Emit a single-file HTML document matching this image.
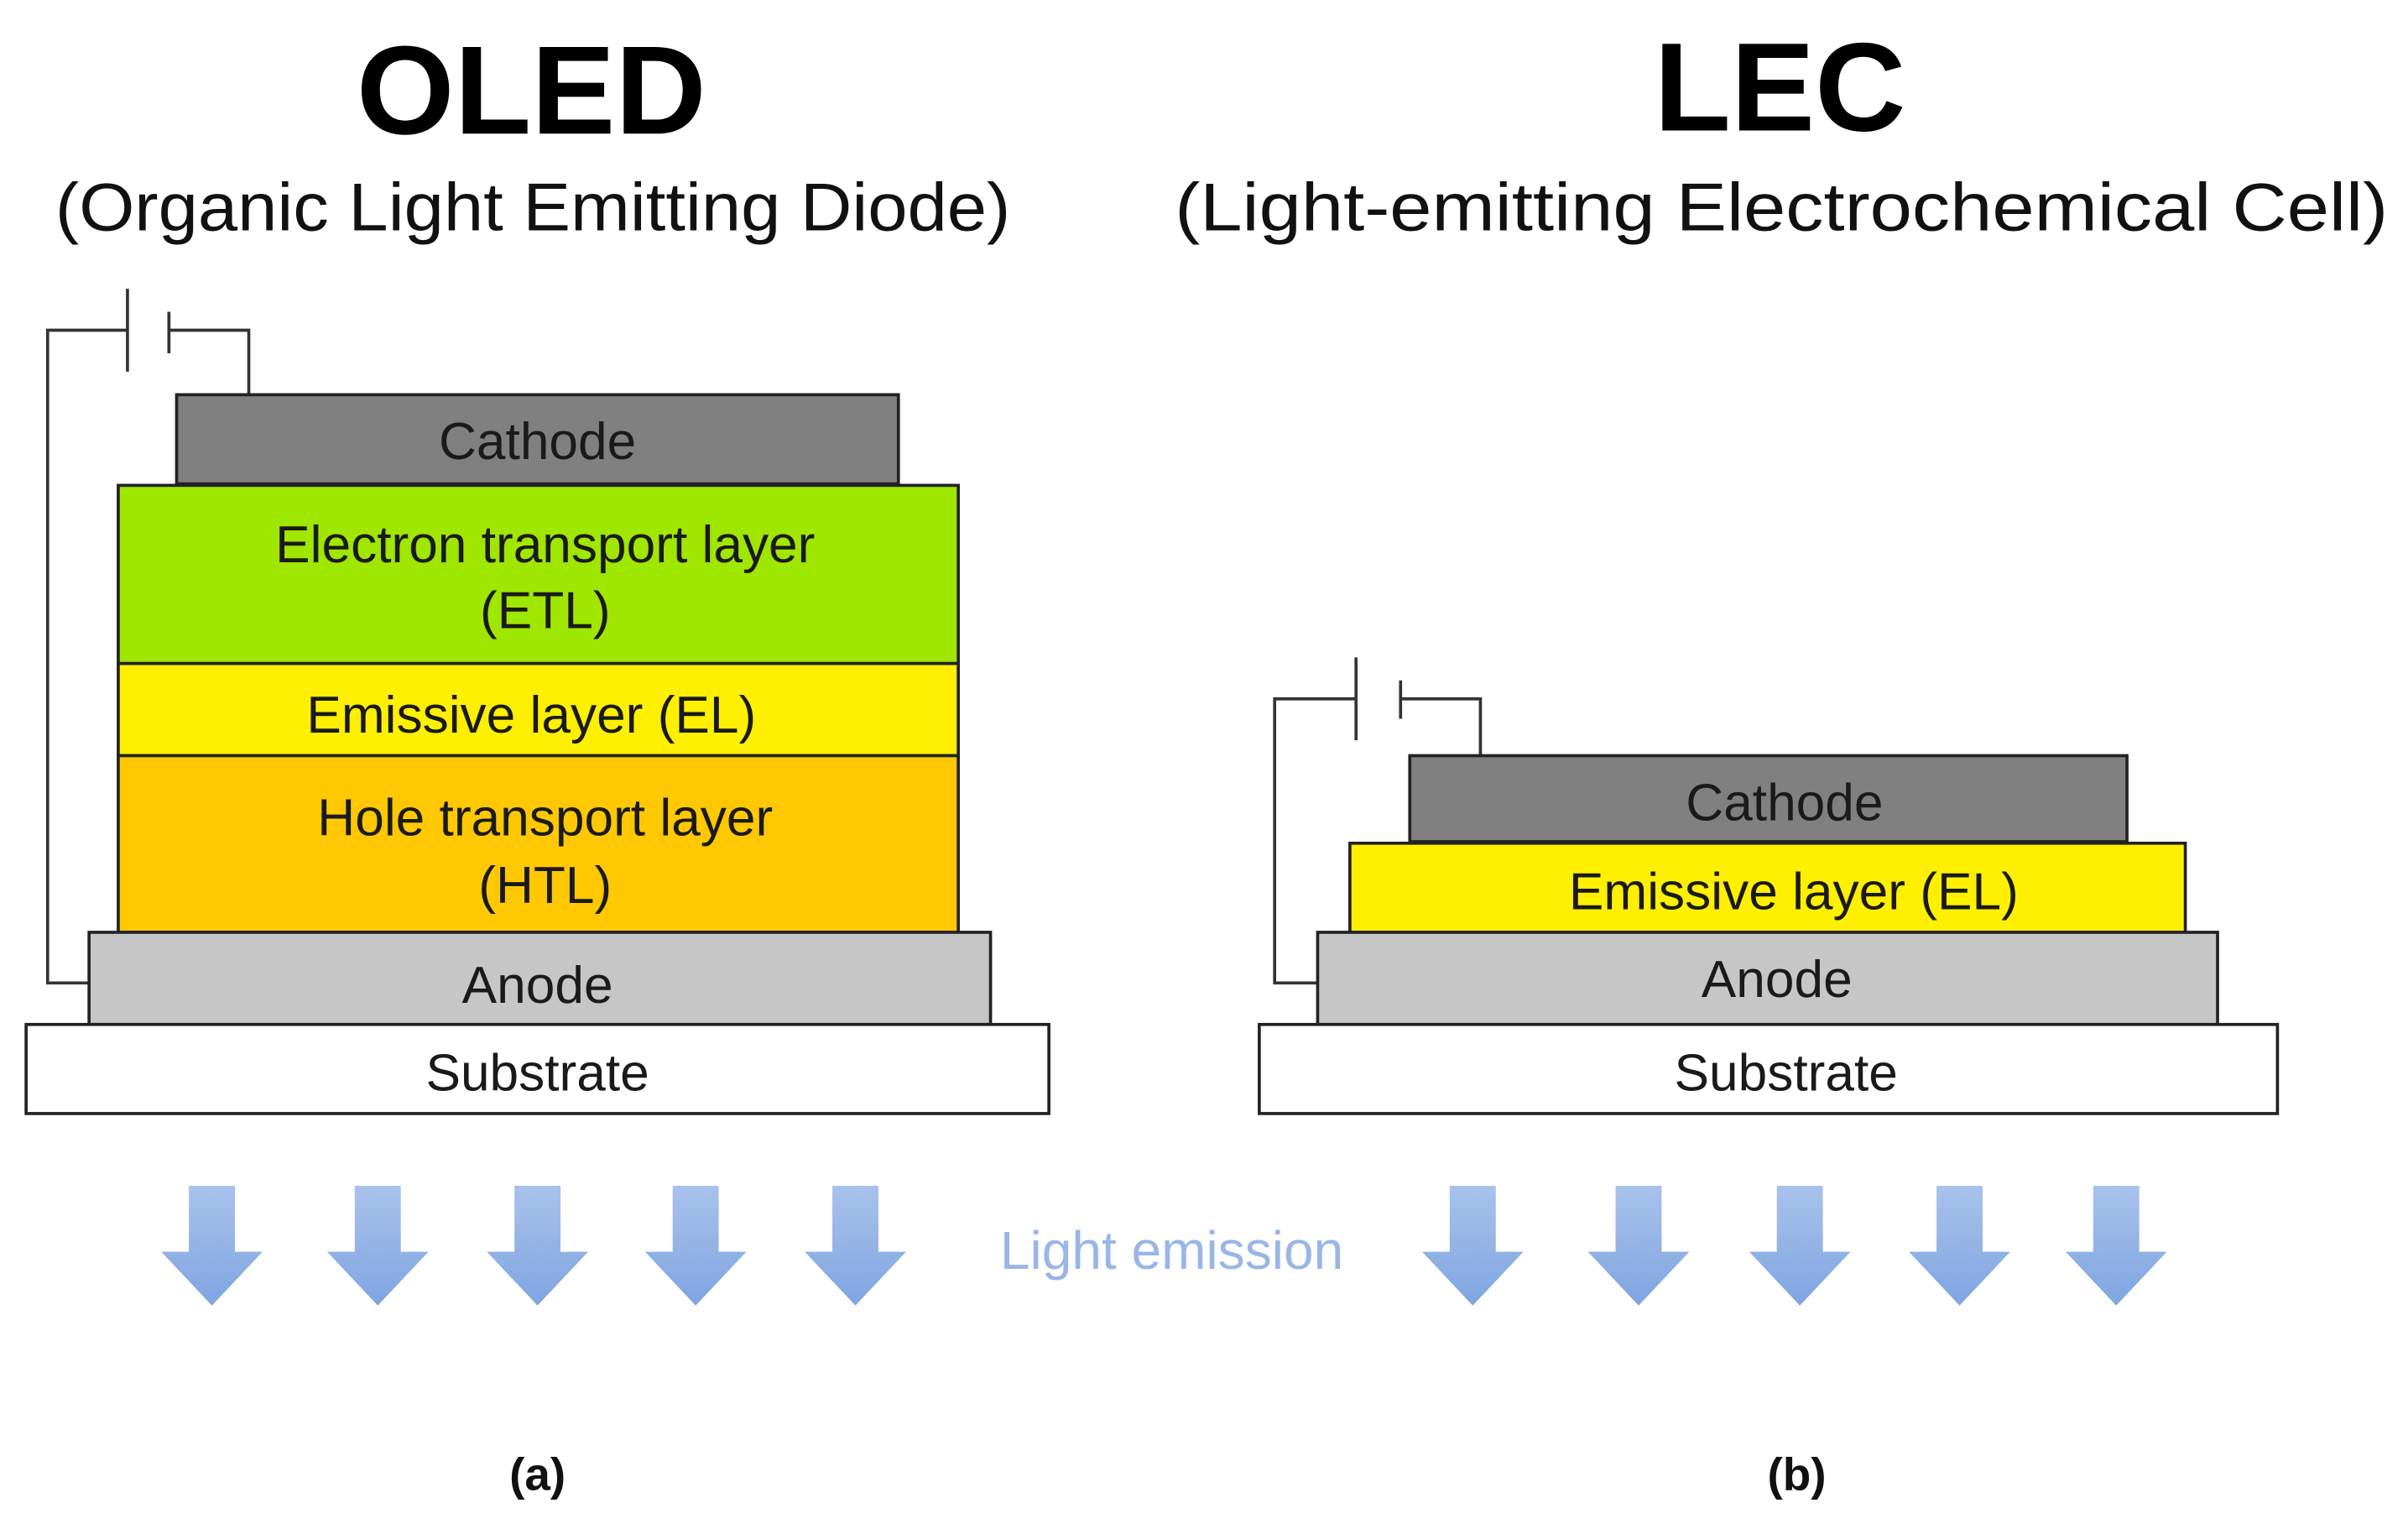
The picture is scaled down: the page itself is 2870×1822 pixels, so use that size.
<!DOCTYPE html>
<html><head><meta charset="utf-8"><style>html,body{margin:0;padding:0;background:#fff}svg{display:block}</style></head>
<body>
<svg width="2870" height="1822" viewBox="0 0 1568 995.5" preserveAspectRatio="none" xmlns="http://www.w3.org/2000/svg" font-family="Liberation Sans, Arial, sans-serif">
<defs>
<linearGradient id="ag" x1="0" y1="0" x2="0" y2="1"><stop offset="0" stop-color="#a9c2ec"/><stop offset="1" stop-color="#7fa5e0"/></linearGradient>
<g id="arr"><path d="M-15 0 H15 V43 H33 L0 78 L-33 43 H-15 Z" fill="url(#ag)"/></g>
</defs>
<rect width="1568" height="995.5" fill="#fff"/>
<text x="346" y="87" font-size="82" font-weight="bold" text-anchor="middle" fill="#000">OLED</text>
<text x="347" y="150" font-size="44" text-anchor="middle" fill="#111" textLength="622" lengthAdjust="spacingAndGlyphs">(Organic Light Emitting Diode)</text>
<text x="1159" y="85" font-size="82" font-weight="bold" text-anchor="middle" fill="#000">LEC</text>
<text x="1160" y="150" font-size="44" text-anchor="middle" fill="#111" textLength="790" lengthAdjust="spacingAndGlyphs">(Light-emitting  Electrochemical Cell)</text>
<g stroke="#333" stroke-width="2" fill="none">
<polyline points="58,640 31,640 31,215 83,215"/>
<line x1="83" y1="188" x2="83" y2="242"/>
<line x1="110" y1="203" x2="110" y2="230"/>
<polyline points="110,215 162,215 162,257"/>
<polyline points="858,640 830,640 830,455 883,455"/>
<line x1="883" y1="428" x2="883" y2="482"/>
<line x1="912" y1="443" x2="912" y2="468"/>
<polyline points="912,455 964,455 964,492"/>
</g>
<g stroke="#222" stroke-width="2">
<rect x="115" y="257" width="470" height="58" fill="#808080"/>
<rect x="77" y="316" width="547" height="116" fill="#9fe600"/>
<rect x="77" y="432" width="547" height="60" fill="#ffef00"/>
<rect x="77" y="492" width="547" height="115" fill="#ffc800"/>
<rect x="58" y="607" width="587" height="60" fill="#c6c6c6"/>
<rect x="17" y="667" width="666" height="58" fill="#fff"/>
<rect x="918" y="492" width="467" height="56" fill="#808080"/>
<rect x="879" y="549" width="544" height="58" fill="#ffef00"/>
<rect x="858" y="607" width="586" height="60" fill="#c6c6c6"/>
<rect x="820" y="667" width="663" height="58" fill="#fff"/>
</g>
<g font-size="34" text-anchor="middle" fill="#1a1a1a">
<text x="350" y="299">Cathode</text>
<text x="355" y="366">Electron transport layer</text>
<text x="355" y="409">(ETL)</text>
<text x="346" y="477">Emissive layer (EL)</text>
<text x="355" y="544">Hole transport layer</text>
<text x="355" y="588">(HTL)</text>
<text x="350" y="653">Anode</text>
<text x="350" y="710">Substrate</text>
<text x="1162" y="534">Cathode</text>
<text x="1168" y="592">Emissive layer (EL)</text>
<text x="1157" y="649">Anode</text>
<text x="1163" y="710">Substrate</text>
</g>
<use href="#arr" x="138" y="772"/><use href="#arr" x="246" y="772"/><use href="#arr" x="350" y="772"/><use href="#arr" x="453" y="772"/><use href="#arr" x="557" y="772"/>
<use href="#arr" x="959" y="772"/><use href="#arr" x="1067" y="772"/><use href="#arr" x="1172" y="772"/><use href="#arr" x="1276" y="772"/><use href="#arr" x="1378" y="772"/>
<text x="763" y="826" font-size="35" text-anchor="middle" fill="#9ab6e6">Light emission</text>
<text x="350" y="970" font-size="30" font-weight="bold" text-anchor="middle" fill="#111">(a)</text>
<text x="1170" y="970" font-size="30" font-weight="bold" text-anchor="middle" fill="#111">(b)</text>
</svg>
</body></html>
